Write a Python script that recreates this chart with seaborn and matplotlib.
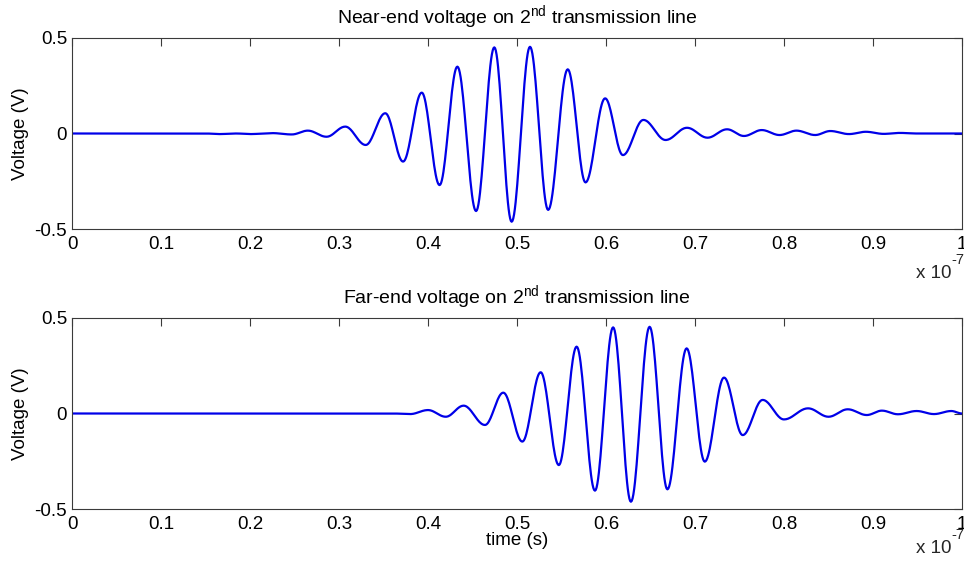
import numpy as np
import pandas as pd
import matplotlib
matplotlib.use("Agg")
import matplotlib.pyplot as plt
import seaborn as sns

# Turning points of the two voltage traces (time in units of 1e-7 s, voltage in V)
near_t = [0.0, 0.15, 0.165, 0.185, 0.2, 0.225, 0.247,
          0.265, 0.286, 0.307, 0.330, 0.352, 0.372, 0.393, 0.413, 0.433, 0.454,
          0.4745, 0.494, 0.5146, 0.535, 0.557, 0.577, 0.599, 0.619, 0.642, 0.667,
          0.691, 0.714, 0.736, 0.755, 0.775, 0.795, 0.814, 0.835, 0.852, 0.873,
          0.892, 0.912, 0.930, 0.95, 1.0]
near_v = [0.0, 0.0, -0.003, 0.0, -0.003, 0.002, -0.005,
          0.015, -0.017, 0.036, -0.060, 0.106, -0.147, 0.214, -0.270, 0.350, -0.406,
          0.451, -0.462, 0.454, -0.400, 0.336, -0.256, 0.184, -0.113, 0.071, -0.034,
          0.030, -0.022, 0.022, -0.013, 0.018, -0.008, 0.015, -0.008, 0.013, -0.003,
          0.009, -0.002, 0.003, 0.0, 0.0]

far_t = [0.0, 0.36, 0.38,
         0.400, 0.420, 0.440, 0.464, 0.4846, 0.506, 0.5266, 0.547, 0.567, 0.5876,
         0.608, 0.628, 0.649, 0.669, 0.6906, 0.711, 0.7326, 0.7536, 0.776, 0.800,
         0.827, 0.850, 0.8716, 0.893, 0.910, 0.928, 0.949, 0.9685, 0.988, 1.0]
far_v = [0.0, 0.0, -0.003,
         0.018, -0.017, 0.041, -0.060, 0.109, -0.147, 0.216, -0.270, 0.350, -0.404,
         0.451, -0.462, 0.454, -0.397, 0.341, -0.252, 0.188, -0.113, 0.071, -0.031,
         0.027, -0.017, 0.022, -0.008, 0.015, -0.004, 0.013, -0.003, 0.013, 0.0]

x_ticks = [0, 0.1, 0.2, 0.3, 0.4, 0.5, 0.6, 0.7, 0.8, 0.9, 1]
x_tick_labels = ["0", "0.1", "0.2", "0.3", "0.4", "0.5", "0.6", "0.7", "0.8", "0.9", "1"]
y_ticks = [-0.5, 0, 0.5]
y_tick_labels = ["-0.5", "0", "0.5"]

titles = ["Near-end voltage on 2$^{\\mathrm{nd}}$ transmission line",
          "Far-end voltage on 2$^{\\mathrm{nd}}$ transmission line"]


def trace(t_pts, v_pts, steps=24):
    """Smooth oscillation through successive turning points (half-cosine arcs)."""
    ts, vs = [t_pts[0]], [v_pts[0]]
    s = np.linspace(0, 1, steps)[1:]
    w = (1 - np.cos(np.pi * s)) / 2
    for (t0, t1), (v0, v1) in zip(zip(t_pts[:-1], t_pts[1:]), zip(v_pts[:-1], v_pts[1:])):
        ts.extend(t0 + (t1 - t0) * s)
        vs.extend(v0 + (v1 - v0) * w)
    return pd.DataFrame({"t": ts, "v": vs})


sns.set_style("white")
plt.rcParams["font.family"] = ["Liberation Sans", "DejaVu Sans"]
plt.rcParams["mathtext.fontset"] = "custom"
plt.rcParams["mathtext.rm"] = "Liberation Sans"
plt.rcParams["mathtext.it"] = "Liberation Sans:italic"

W, H = 964, 565
fig = plt.figure(figsize=(W / 100, H / 100), dpi=100)
fig.patch.set_facecolor("white")

ax_left = 72 / W
ax_w = 890 / W
ax_h = 191 / H
axes = [fig.add_axes([ax_left, 1 - 229 / H, ax_w, ax_h]),
        fig.add_axes([ax_left, 1 - 509 / H, ax_w, ax_h])]

series = [(near_t, near_v), (far_t, far_v)]
spine_col = "#3a3a3a"
fs = 13.5

for ax, (tt, vv), title in zip(axes, series, titles):
    df = trace(tt, vv)
    sns.lineplot(data=df, x="t", y="v", ax=ax, color="#0000e8", linewidth=1.6,
                 estimator=None, sort=False)
    ax.set_xlim(0, 1)
    ax.set_ylim(-0.5, 0.5)
    ax.set_xticks(x_ticks)
    ax.set_xticklabels(x_tick_labels)
    ax.set_yticks(y_ticks)
    ax.set_yticklabels(y_tick_labels)
    ax.tick_params(direction="in", length=6, width=0.8, color=spine_col,
                   top=True, right=True, labelsize=fs, labelcolor="black")
    ax.tick_params(axis="x", pad=5)
    ax.tick_params(axis="y", pad=3.5)
    for sp in ax.spines.values():
        sp.set_visible(True)
        sp.set_color(spine_col)
        sp.set_linewidth(0.8)
    ax.set_title(title, fontsize=14, pad=10.5, color="black")
    ax.set_ylabel("Voltage (V)", fontsize=fs, color="black")
    ax.yaxis.set_label_coords(-0.048, 0.5)
    ax.set_xlabel("")

axes[1].set_xlabel("time (s)", fontsize=fs, color="black", labelpad=-0.8)

# Exponent of the time axis, printed under each plot's right end
for base_px in (278, 553):
    fig.text(952 / W, 1 - base_px / H, "x 10", ha="right", va="baseline", fontsize=fs)
    fig.text(951.5 / W, 1 - (base_px - 14) / H, "-7", ha="left", va="baseline", fontsize=10.5)

fig.savefig("out.png", dpi=100, facecolor="white")
